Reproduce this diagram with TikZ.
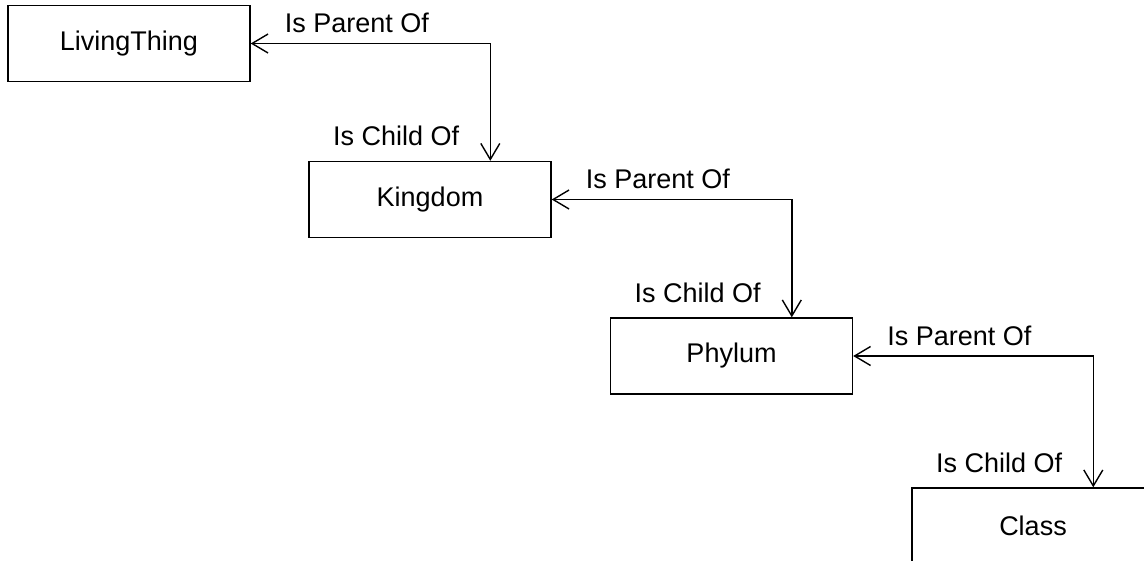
\documentclass[tikz,border=0pt]{standalone}
\usepackage{fontspec}
\setmainfont{Liberation Sans}
\usetikzlibrary{arrows.meta}
\tikzset{
  entity/.style={draw, line width=1.4pt, minimum width=242pt, minimum height=76pt, inner sep=0pt, font=\fontsize{27}{32}\selectfont},
  link/.style={line width=1.4pt, arrows={Straight Barb[length=16pt,width=19pt]-Straight Barb[length=16pt,width=19pt]}},
  lbl/.style={inner sep=0pt, font=\fontsize{27}{32}\selectfont}
}
\begin{document}
\begin{tikzpicture}[x=1pt,y=-1pt]
\useasboundingbox (0,0) rectangle (1144,560);
\clip (0,0) rectangle (1144,560);
\fill[white] (0,0) rectangle (1144,560);
\node[entity] (lt) at (129,43.5) {LivingThing};
\node[entity] (kg) at (430,199.5) {Kingdom};
\node[entity] (ph) at (731.5,356) {Phylum};
\node[entity] (cl) at (1033,526) {Class};
\coordinate (kgt) at ([xshift=182pt]kg.north west);
\coordinate (pht) at ([xshift=182pt]ph.north west);
\coordinate (clt) at ([xshift=182pt]cl.north west);
\draw[link] (lt.east) -| (kgt);
\draw[link] (kg.east) -| (pht);
\draw[link] (ph.east) -| (clt);
\node[lbl, anchor=base west] (p1) at ([xshift=34pt,yshift=11pt]lt.east) {Is Parent Of};
\node[lbl, anchor=base west] (p2) at ([xshift=34pt,yshift=11pt]kg.east) {Is Parent Of};
\node[lbl, anchor=base west] (p3) at ([xshift=34pt,yshift=11pt]ph.east) {Is Parent Of};
\node[lbl, anchor=base east] (c1) at ([xshift=-31pt,yshift=15pt]kgt) {Is Child Of};
\node[lbl, anchor=base east] (c2) at ([xshift=-31pt,yshift=15pt]pht) {Is Child Of};
\node[lbl, anchor=base east] (c3) at ([xshift=-31pt,yshift=15pt]clt) {Is Child Of};
\end{tikzpicture}
\end{document}
